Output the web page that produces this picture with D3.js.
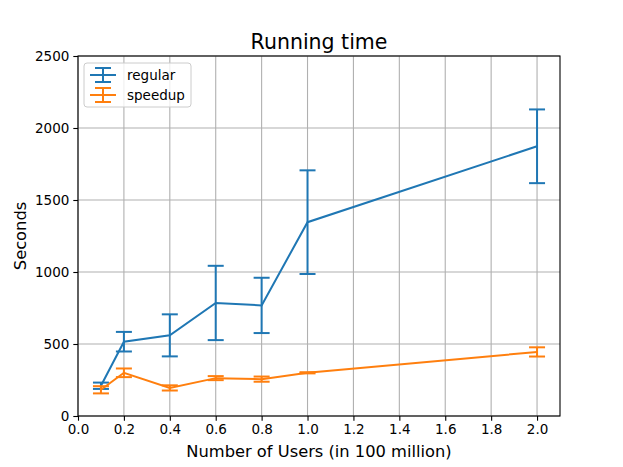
<!DOCTYPE html>
<html>
<head>
<meta charset="utf-8">
<script src="https://cdn.jsdelivr.net/npm/d3@7"></script>
<style>
  body { margin: 0; background: #fff; }
  text { font-family: "DejaVu Sans", sans-serif; }
</style>
</head>
<body>
<svg id="chart"></svg>
<script>
// data
const users = [0.1, 0.2, 0.4, 0.6, 0.8, 1.0, 2.0];
const regularMean = [210, 516, 560, 785, 768, 1346, 1873];
const regularErr = [22, 68, 146, 258, 192, 360, 256];
const speedupMean = [182, 300, 195, 263, 256, 300, 445];
const speedupErr = [25, 30, 18, 14, 18, 4, 32];
const xTicks = [0.0, 0.2, 0.4, 0.6, 0.8, 1.0, 1.2, 1.4, 1.6, 1.8, 2.0];
const yTicks = [0, 500, 1000, 1500, 2000, 2500];

const series = [
  { name: 'regular', color: '#1f77b4', mean: regularMean, err: regularErr },
  { name: 'speedup', color: '#ff7f0e', mean: speedupMean, err: speedupErr }
];

const W = 623, H = 467;
const margin = { top: 56, right: 63, bottom: 51, left: 78 };
const width = W - margin.left - margin.right;
const height = H - margin.top - margin.bottom;

const svg = d3.select('#chart').attr('width', W).attr('height', H);

const x = d3.scaleLinear().domain([0, 2.1]).range([0, width]);
const y = d3.scaleLinear().domain([0, 2500]).range([height, 0]);

const g = svg.append('g').attr('transform', `translate(${margin.left},${margin.top})`);

// grid
g.append('g').selectAll('line').data(xTicks).enter().append('line')
  .attr('x1', d => x(d)).attr('x2', d => x(d))
  .attr('y1', 0).attr('y2', height)
  .attr('stroke', '#b0b0b0').attr('stroke-width', 1.1);
g.append('g').selectAll('line').data(yTicks).enter().append('line')
  .attr('x1', 0).attr('x2', width)
  .attr('y1', d => y(d)).attr('y2', d => y(d))
  .attr('stroke', '#b0b0b0').attr('stroke-width', 1.1);

// axes
const xAxis = g.append('g').attr('transform', `translate(0,${height})`)
  .call(d3.axisBottom(x).tickValues(xTicks).tickFormat(d3.format('.1f')).tickSizeInner(4.7).tickSizeOuter(0).tickPadding(4));
const yAxis = g.append('g')
  .call(d3.axisLeft(y).tickValues(yTicks).tickFormat(d3.format('d')).tickSizeInner(4.7).tickSizeOuter(0).tickPadding(4));
[xAxis, yAxis].forEach(a => {
  a.select('.domain').remove();
  a.selectAll('text').style('font-size', '13.5px').attr('fill', '#000');
  a.selectAll('line').attr('stroke', '#000').attr('stroke-width', 1.1);
});

// frame
g.append('rect').attr('width', width).attr('height', height)
  .attr('fill', 'none').attr('stroke', '#000').attr('stroke-width', 1.1);

const line = d3.line().x(d => x(d[0])).y(d => y(d[1]));
const cap = 8;

series.forEach(s => {
  const pts = users.map((u, i) => [u, s.mean[i], s.err[i]]);
  const sg = g.append('g');
  sg.append('path').datum(pts).attr('d', line)
    .attr('fill', 'none').attr('stroke', s.color).attr('stroke-width', 2);
  sg.selectAll('.bar').data(pts).enter().append('line')
    .attr('x1', d => x(d[0])).attr('x2', d => x(d[0]))
    .attr('y1', d => y(d[1] - d[2])).attr('y2', d => y(d[1] + d[2]))
    .attr('stroke', s.color).attr('stroke-width', 2);
  [-1, 1].forEach(sign => {
    sg.selectAll('.cap' + sign).data(pts).enter().append('line')
      .attr('x1', d => x(d[0]) - cap).attr('x2', d => x(d[0]) + cap)
      .attr('y1', d => y(d[1] + sign * d[2])).attr('y2', d => y(d[1] + sign * d[2]))
      .attr('stroke', s.color).attr('stroke-width', 2);
  });
});

// title and labels
svg.append('text').attr('x', margin.left + width / 2).attr('y', 49)
  .attr('text-anchor', 'middle').style('font-size', '20.5px').text('Running time');
svg.append('text').attr('x', margin.left + width / 2).attr('y', 456.5)
  .attr('text-anchor', 'middle').style('font-size', '16.3px').text('Number of Users (in 100 million)');
svg.append('text').attr('transform', `translate(25.5,${margin.top + height / 2}) rotate(-90)`)
  .attr('text-anchor', 'middle').style('font-size', '16.3px').text('Seconds');

// legend
const lg = svg.append('g').attr('transform', `translate(${margin.left + 6},${margin.top + 7})`);
lg.append('rect').attr('width', 107).attr('height', 44).attr('rx', 3)
  .attr('fill', '#fff').attr('fill-opacity', 0.8).attr('stroke', '#ccc').attr('stroke-width', 1);
series.forEach((s, i) => {
  const row = lg.append('g').attr('transform', `translate(0,${12 + i * 20})`);
  row.append('line').attr('x1', 6).attr('x2', 32).attr('stroke', s.color).attr('stroke-width', 2);
  row.append('line').attr('x1', 19).attr('x2', 19).attr('y1', -7).attr('y2', 7).attr('stroke', s.color).attr('stroke-width', 2);
  [-7, 7].forEach(dy => row.append('line').attr('x1', 11).attr('x2', 27).attr('y1', dy).attr('y2', dy)
    .attr('stroke', s.color).attr('stroke-width', 2));
  row.append('text').attr('x', 43).attr('y', 4.5).style('font-size', '13.5px').text(s.name);
});
</script>
</body>
</html>
